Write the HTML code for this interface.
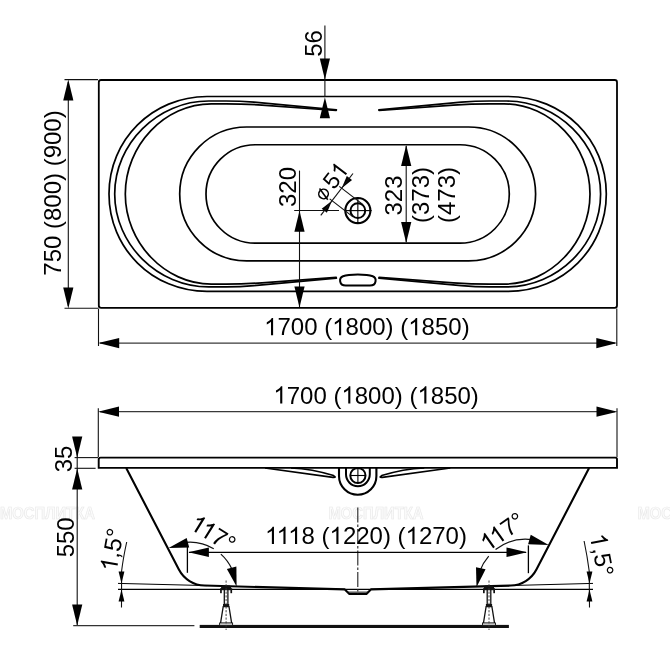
<!DOCTYPE html>
<html><head><meta charset="utf-8"><title>Bathtub drawing</title>
<style>
html,body{margin:0;padding:0;background:#fff;}
body{width:670px;height:669px;overflow:hidden;}
svg{display:block;will-change:transform;opacity:0.999;font-family:"Liberation Sans",sans-serif;}
</style></head>
<body>
<svg width="670" height="669" viewBox="0 0 670 669">
<rect x="0" y="0" width="670" height="669" fill="#fff"/>
<text x="637.5" y="519.2" font-size="16" font-weight="bold" fill="#fcfcfc" stroke="#e9e9e9" stroke-width="0.7" textLength="95" lengthAdjust="spacingAndGlyphs">МОСПЛИТКА</text>
<text x="328.5" y="519.2" font-size="16" font-weight="bold" fill="#fcfcfc" stroke="#e9e9e9" stroke-width="0.7" textLength="95" lengthAdjust="spacingAndGlyphs">МОСПЛИТКА</text>
<text x="0" y="519.2" font-size="16" font-weight="bold" fill="#fcfcfc" stroke="#e9e9e9" stroke-width="0.7" textLength="95" lengthAdjust="spacingAndGlyphs">МОСПЛИТКА</text>
<rect x="98.8" y="80" width="518.2" height="227.9" rx="2.3" ry="2.3" fill="none" stroke="#000" stroke-width="1.8"/>
<path d="M207 96.5 L508.3 96.5 C562.89 96.5 606.3 139.67 606.3 193.95 C606.3 248.23 562.89 291.4 508.3 291.4 L207 291.4 C152.41 291.4 109 248.23 109 193.95 C109 139.67 152.41 96.5 207 96.5 Z" fill="none" stroke="#000" stroke-width="1.7" />
<path d="M246.65 127 L468.65 127 C505.63 127 535.6 156.97 535.6 193.95 C535.6 230.93 505.63 260.9 468.65 260.9 L246.65 260.9 C209.67 260.9 179.7 230.93 179.7 193.95 C179.7 156.97 209.67 127 246.65 127 Z" fill="none" stroke="#000" stroke-width="1.7" />
<path d="M255.2 144.75 L460.1 144.75 C487.27 144.75 509.3 166.78 509.3 193.95 C509.3 221.12 487.27 243.15 460.1 243.15 L255.2 243.15 C228.03 243.15 206 221.12 206 193.95 C206 166.78 228.03 144.75 255.2 144.75 Z" fill="none" stroke="#000" stroke-width="1.7" />
<path d="M336.4 109.8 L254 102.2 Q240 101 226 101 L208.7 101 C157.66 101 114.7 143.48 114.7 193.95 C114.7 244.42 157.66 286.9 208.7 286.9 L226 286.9 Q240 286.9 254 285.7 L336.4 278.1" fill="none" stroke="#000" stroke-width="1.7" stroke-linecap="round" stroke-linejoin="round"/>
<path d="M336.2 110.5 L262 105.1 Q244 103.8 226 103.8 L211.3 103.8 C164.86 103.8 125.3 145.27 125.3 193.95 C125.3 242.63 164.86 284.1 211.3 284.1 L226 284.1 Q244 284.1 262 282.8 L336.2 277.4" fill="none" stroke="#000" stroke-width="1.7" stroke-linecap="round" stroke-linejoin="round"/>
<path d="M378.9 109.8 L461.3 102.2 Q475.3 101 489.3 101 L506.6 101 C557.64 101 600.6 143.48 600.6 193.95 C600.6 244.42 557.64 286.9 506.6 286.9 L489.3 286.9 Q475.3 286.9 461.3 285.7 L378.9 278.1" fill="none" stroke="#000" stroke-width="1.7" stroke-linecap="round" stroke-linejoin="round"/>
<path d="M379.1 110.5 L453.3 105.1 Q471.3 103.8 489.3 103.8 L504 103.8 C550.44 103.8 590 145.27 590 193.95 C590 242.63 550.44 284.1 504 284.1 L489.3 284.1 Q471.3 284.1 453.3 282.8 L379.1 277.4" fill="none" stroke="#000" stroke-width="1.7" stroke-linecap="round" stroke-linejoin="round"/>
<path d="M343 276.2 C349 274.0 366.7 274.0 372.7 276.2 C377.1 277.8 376.7 285.6 370 285.6 L345.7 285.6 C339 285.6 338.6 277.8 343 276.2 Z" fill="none" stroke="#000" stroke-width="2.0" />
<circle cx="357.85" cy="210.6" r="12.55" fill="none" stroke="#000" stroke-width="2.1"/>
<circle cx="357.85" cy="210.6" r="7.4" fill="none" stroke="#000" stroke-width="2.0"/>
<line x1="357.85" y1="197.8" x2="357.85" y2="223.5" stroke="#000" stroke-width="1.1" />
<line x1="344.7" y1="210.6" x2="371.7" y2="210.6" stroke="#000" stroke-width="1.1" />
<line x1="64.5" y1="79.6" x2="98" y2="79.6" stroke="#111" stroke-width="1.1" />
<line x1="64.5" y1="308.3" x2="98" y2="308.3" stroke="#111" stroke-width="1.1" />
<line x1="68.3" y1="82" x2="68.3" y2="306" stroke="#111" stroke-width="1.1" />
<polygon points="68.3,79.4 73.4,100.4 63.2,100.4" fill="#000"/>
<polygon points="68.3,308.6 63.2,287.6 73.4,287.6" fill="#000"/>
<g transform="translate(61.2 193) rotate(-90)" fill="#000"><text x="-82.72 -69.37 -56.02 -36.01 -28.02 -14.67 -1.32 12.03 26.69 34.68 48.03 61.38 74.73" y="0" font-size="24" >750(800)(900)</text></g>
<line x1="98.5" y1="308.5" x2="98.5" y2="346" stroke="#111" stroke-width="1.1" />
<line x1="616.8" y1="308.5" x2="616.8" y2="346" stroke="#111" stroke-width="1.1" />
<line x1="100" y1="343.1" x2="615" y2="343.1" stroke="#3a3a3a" stroke-width="1.3" />
<polygon points="98.2,343.1 119.2,338 119.2,348.2" fill="#000"/>
<polygon points="617.3,343.1 596.3,348.2 596.3,338" fill="#000"/>
<g transform="translate(366.9 335.3)" fill="#000"><text x="-89.4 -76.05 -62.7 -42.68 -21.34 -7.99 5.36 18.71 33.36 54.71 68.05 81.4 94.75" y="0" font-size="24" >700(800)(850)</text><path transform="translate(-102.74 0) scale(0.011719 -0.011719)" d="M763 0H583V1147Q518 1085 412.5 1023T223 930V1104Q374 1175 487 1276T647 1472H763Z"/><path transform="translate(-34.69 0) scale(0.011719 -0.011719)" d="M763 0H583V1147Q518 1085 412.5 1023T223 930V1104Q374 1175 487 1276T647 1472H763Z"/><path transform="translate(41.36 0) scale(0.011719 -0.011719)" d="M763 0H583V1147Q518 1085 412.5 1023T223 930V1104Q374 1175 487 1276T647 1472H763Z"/></g>
<line x1="324.9" y1="25.5" x2="324.9" y2="97" stroke="#111" stroke-width="1.1" />
<polygon points="324.9,79.5 319.8,58.5 330,58.5" fill="#000"/>
<polygon points="324.9,97.2 330,118.2 319.8,118.2" fill="#000"/>
<g transform="translate(322 43.4) rotate(-90)" fill="#000"><text x="-13.35 0" y="0" font-size="24" >56</text></g>
<line x1="299.5" y1="170.6" x2="299.5" y2="307" stroke="#111" stroke-width="1.1" />
<line x1="294.2" y1="210.5" x2="339" y2="210.5" stroke="#111" stroke-width="1.1" />
<polygon points="299.5,210.8 304.6,231.8 294.4,231.8" fill="#000"/>
<polygon points="299.5,307.6 294.4,286.6 304.6,286.6" fill="#000"/>
<g transform="translate(296.2 187) rotate(-90)" fill="#000"><text x="-20.02 -6.67 6.67" y="0" font-size="24" >320</text></g>
<line x1="406.2" y1="146" x2="406.2" y2="242" stroke="#111" stroke-width="1.1" />
<polygon points="406.2,144.9 411.3,165.9 401.1,165.9" fill="#000"/>
<polygon points="406.2,243 401.1,222 411.3,222" fill="#000"/>
<g transform="translate(402.3 195.5) rotate(-90)" fill="#000"><text x="-20.02 -6.67 6.67" y="0" font-size="24" >323</text></g>
<g transform="translate(428.6 195) rotate(-90)" fill="#000"><text x="-28.02 -20.02 -6.67 6.67 20.02" y="0" font-size="24" >(373)</text></g>
<g transform="translate(455.2 195) rotate(-90)" fill="#000"><text x="-28.02 -20.02 -6.67 6.67 20.02" y="0" font-size="24" >(473)</text></g>
<line x1="362.67" y1="204.34" x2="339.3" y2="186.34" stroke="#111" stroke-width="1.15" />
<polygon points="341.67,188.17 346.81,176.1 352.04,180.12" fill="#000"/>
<line x1="353.03" y1="216.86" x2="329.66" y2="198.86" stroke="#111" stroke-width="1.15" />
<polygon points="332.03,200.69 326.9,212.77 321.67,208.74" fill="#000"/>
<line x1="352.96" y1="173.51" x2="320.75" y2="215.35" stroke="#111" stroke-width="1.15" />
<g transform="translate(334 190.4) rotate(-52.3)" fill="#000"><text x="0" y="0" font-size="23" >5</text><path transform="translate(12.79 0) scale(0.011230 -0.011230)" d="M763 0H583V1147Q518 1085 412.5 1023T223 930V1104Q374 1175 487 1276T647 1472H763Z"/></g>
<g transform="translate(334 190.4) rotate(-52.3)" fill="none" stroke="#000" stroke-linecap="butt"><circle cx="-9.2" cy="-6.1" r="4.75" stroke-width="1.6"/><line x1="-11.25" y1="0.8" x2="-7.35" y2="-12.6" stroke-width="1.5"/></g>
<path d="M100.6 457.6 L615.4 457.6 Q617 457.6 617 459.20000000000005 L617 467.9 L98.7 467.9 L98.7 459.5 Q98.7 457.6 100.6 457.6 Z" fill="none" stroke="#000" stroke-width="1.9" />
<path d="M126.2 468 L178.87 569.49 A29.9 29.9 0 0 0 204.6 585.56 L344.8 589.4 L349.4 593.9 L366.4 593.9 L370.9 589.4 L510.7 585.56 A29.9 29.9 0 0 0 536.43 569.49 L589.1 468" fill="none" stroke="#000" stroke-width="2.1" stroke-linejoin="round"/>
<line x1="347.4" y1="592.1" x2="368.4" y2="592.1" stroke="#111" stroke-width="0.9" />
<line x1="118" y1="583.4" x2="207" y2="585.6" stroke="#000" stroke-width="1.0" />
<line x1="593" y1="583.4" x2="508.3" y2="585.6" stroke="#000" stroke-width="1.0" />
<line x1="118" y1="589.45" x2="593" y2="589.45" stroke="#000" stroke-width="1.2" />
<line x1="357.8" y1="507.5" x2="357.8" y2="594" stroke="#222" stroke-width="1.1" stroke-dasharray="15 2 2.5 2"/>
<path d="M339 468 L339 476.1 A18.7 18.7 0 0 0 376.4 476.1 L376.4 468" fill="none" stroke="#000" stroke-width="2.1" />
<path d="M346 468 L346 474.3 A11.9 11.9 0 0 0 369.8 474.3 L369.8 468" fill="none" stroke="#000" stroke-width="2.0" />
<circle cx="357.9" cy="475.5" r="7.6" fill="none" stroke="#000" stroke-width="2.0"/>
<line x1="357.9" y1="468.6" x2="357.9" y2="483.2" stroke="#000" stroke-width="1.1" />
<line x1="350" y1="475.5" x2="365.8" y2="475.5" stroke="#000" stroke-width="1.1" />
<path d="M265 468 L333 477.4 Q337.2 477.6 333.6 475.6 Q312 468.8 291 468" fill="none" stroke="#000" stroke-width="1.6" stroke-linejoin="round"/>
<path d="M450.3 468 L382.3 477.4 Q378.1 477.6 381.7 475.6 Q403.3 468.8 424.3 468" fill="none" stroke="#000" stroke-width="1.6" stroke-linejoin="round"/>
<line x1="98.3" y1="408.3" x2="98.3" y2="457" stroke="#111" stroke-width="1.1" />
<line x1="617" y1="408.3" x2="617" y2="457" stroke="#111" stroke-width="1.1" />
<line x1="100" y1="411.7" x2="615" y2="411.7" stroke="#3a3a3a" stroke-width="1.3" />
<polygon points="98,411.7 119,406.6 119,416.8" fill="#000"/>
<polygon points="617.5,411.7 596.5,416.8 596.5,406.6" fill="#000"/>
<g transform="translate(376.1 403.5)" fill="#000"><text x="-89.4 -76.05 -62.7 -42.68 -21.34 -7.99 5.36 18.71 33.36 54.71 68.05 81.4 94.75" y="0" font-size="24" >700(800)(850)</text><path transform="translate(-102.74 0) scale(0.011719 -0.011719)" d="M763 0H583V1147Q518 1085 412.5 1023T223 930V1104Q374 1175 487 1276T647 1472H763Z"/><path transform="translate(-34.69 0) scale(0.011719 -0.011719)" d="M763 0H583V1147Q518 1085 412.5 1023T223 930V1104Q374 1175 487 1276T647 1472H763Z"/><path transform="translate(41.36 0) scale(0.011719 -0.011719)" d="M763 0H583V1147Q518 1085 412.5 1023T223 930V1104Q374 1175 487 1276T647 1472H763Z"/></g>
<line x1="74.6" y1="457.6" x2="98" y2="457.6" stroke="#111" stroke-width="1.1" />
<line x1="74.6" y1="468.3" x2="95.6" y2="468.3" stroke="#111" stroke-width="1.1" />
<line x1="77.2" y1="438" x2="77.2" y2="625" stroke="#111" stroke-width="1.1" />
<polygon points="77.2,457.4 72.1,436.4 82.3,436.4" fill="#000"/>
<polygon points="77.2,468.5 82.3,489.5 72.1,489.5" fill="#000"/>
<polygon points="77.2,625.6 72.1,604.6 82.3,604.6" fill="#000"/>
<g transform="translate(71.5 459) rotate(-90)" fill="#000"><text x="-13.35 0" y="0" font-size="24" >35</text></g>
<g transform="translate(73.6 537.3) rotate(-90)" fill="#000"><text x="-20.02 -6.67 6.67" y="0" font-size="24" >550</text></g>
<line x1="73.2" y1="625.7" x2="194.4" y2="625.7" stroke="#333" stroke-width="1.3" />
<rect x="199.7" y="624.9" width="309.2" height="3.1" fill="#111"/>
<line x1="187.4" y1="544.8" x2="187.4" y2="572.8" stroke="#000" stroke-width="1.3" />
<line x1="528.4" y1="545.4" x2="528.4" y2="573.2" stroke="#000" stroke-width="1.3" />
<line x1="189" y1="552.3" x2="526" y2="552.3" stroke="#000" stroke-width="1.2" />
<polygon points="188.4,552.3 208.9,547.5 208.9,557.1" fill="#000"/>
<polygon points="527,552.3 506.5,557.1 506.5,547.5" fill="#000"/>
<g transform="translate(366 544.1)" fill="#000"><text x="-64.48 -44.46 -23.12 -9.77 3.58 16.92 31.58 52.92 66.27 79.62 92.97" y="0" font-size="24" >8(220)(270)</text><path transform="translate(-100.96 0) scale(0.011719 -0.011719)" d="M763 0H583V1147Q518 1085 412.5 1023T223 930V1104Q374 1175 487 1276T647 1472H763Z"/><path transform="translate(-89.4 0) scale(0.011719 -0.011719)" d="M763 0H583V1147Q518 1085 412.5 1023T223 930V1104Q374 1175 487 1276T647 1472H763Z"/><path transform="translate(-77.83 0) scale(0.011719 -0.011719)" d="M763 0H583V1147Q518 1085 412.5 1023T223 930V1104Q374 1175 487 1276T647 1472H763Z"/><path transform="translate(-36.47 0) scale(0.011719 -0.011719)" d="M763 0H583V1147Q518 1085 412.5 1023T223 930V1104Q374 1175 487 1276T647 1472H763Z"/><path transform="translate(39.58 0) scale(0.011719 -0.011719)" d="M763 0H583V1147Q518 1085 412.5 1023T223 930V1104Q374 1175 487 1276T647 1472H763Z"/></g>
<path d="M185.86 542.38 A46.3 46.3 0 0 1 213.75 548.81" fill="none" stroke="#111" stroke-width="1.2" />
<path d="M220.88 554.09 A46.3 46.3 0 0 1 231.86 568.93" fill="none" stroke="#111" stroke-width="1.2" />
<polygon points="168.6,547.9 186.69,538.06 189.19,547.54" fill="#000"/>
<polygon points="236.6,586.6 226.91,568.98 236.39,566.49" fill="#000"/>
<path d="M531.73 539.56 A49.06 49.06 0 0 0 495.55 549.59" fill="none" stroke="#111" stroke-width="1.2" />
<path d="M488.72 556.06 A49.06 49.06 0 0 0 479.65 571.47" fill="none" stroke="#111" stroke-width="1.2" />
<polygon points="548.7,544.9 528.12,544.28 530.73,534.84" fill="#000"/>
<polygon points="476.5,587.3 476.01,567.2 485.57,569.36" fill="#000"/>
<g transform="translate(188.5 527.9) rotate(32)" fill="#000"><text x="24.92 38.27" y="0" font-size="24" >7°</text><path transform="translate(0 0) scale(0.011719 -0.011719)" d="M763 0H583V1147Q518 1085 412.5 1023T223 930V1104Q374 1175 487 1276T647 1472H763Z"/><path transform="translate(11.57 0) scale(0.011719 -0.011719)" d="M763 0H583V1147Q518 1085 412.5 1023T223 930V1104Q374 1175 487 1276T647 1472H763Z"/></g>
<g transform="translate(487.6 552.1) rotate(-35.5)" fill="#000"><text x="24.92 38.27" y="0" font-size="24" >7°</text><path transform="translate(0 0) scale(0.011719 -0.011719)" d="M763 0H583V1147Q518 1085 412.5 1023T223 930V1104Q374 1175 487 1276T647 1472H763Z"/><path transform="translate(11.57 0) scale(0.011719 -0.011719)" d="M763 0H583V1147Q518 1085 412.5 1023T223 930V1104Q374 1175 487 1276T647 1472H763Z"/></g>
<path d="M126.7 542 Q123.2 558 121.6 571 L121.5 607.4" fill="none" stroke="#111" stroke-width="1.1" />
<polygon points="121.5,583.5 118.6,571.5 124.4,571.5" fill="#000"/>
<polygon points="121.5,589.5 124.4,601.5 118.6,601.5" fill="#000"/>
<g transform="translate(116.4 572.2) rotate(-80)" fill="#000"><text x="13.35 20.02 33.36" y="0" font-size="24" >,5°</text><path transform="translate(0 0) scale(0.011719 -0.011719)" d="M763 0H583V1147Q518 1085 412.5 1023T223 930V1104Q374 1175 487 1276T647 1472H763Z"/></g>
<path d="M584.1 541 Q587.4 557 589.2 571 L589.5 607.4" fill="none" stroke="#111" stroke-width="1.1" />
<polygon points="589.5,583.6 586.6,571.6 592.4,571.6" fill="#000"/>
<polygon points="589.5,589.5 592.4,601.5 586.6,601.5" fill="#000"/>
<g transform="translate(589.6 535.3) rotate(79)" fill="#000"><text x="13.35 20.02 33.36" y="0" font-size="24" >,5°</text><path transform="translate(0 0) scale(0.011719 -0.011719)" d="M763 0H583V1147Q518 1085 412.5 1023T223 930V1104Q374 1175 487 1276T647 1472H763Z"/></g>
<rect x="221.1" y="585.6" width="10" height="4.2" rx="1.5" fill="#111"/>
<rect x="220.1" y="588.4" width="12" height="1.8" fill="#111"/>
<rect x="220.1" y="588.6" width="1.7" height="4.6" fill="#111"/>
<rect x="230.4" y="588.6" width="1.7" height="4.6" fill="#111"/>
<rect x="224.3" y="589.6" width="3.6" height="15" fill="#fff" stroke="#111" stroke-width="1.3"/>
<rect x="223" y="604" width="6.2" height="2.6" fill="#111"/>
<path d="M223.2 606.6 L229 606.6 L231.7 623.4 L220.5 623.4 Z" fill="#fff" stroke="#111" stroke-width="1.3"/>
<rect x="219.6" y="623" width="13" height="2.2" fill="#fff" stroke="#111" stroke-width="0.9"/>
<line x1="226.1" y1="580.5" x2="226.1" y2="630" stroke="#333" stroke-width="0.9" stroke-dasharray="2.2 1.5"/>
<rect x="484" y="585.6" width="10" height="4.2" rx="1.5" fill="#111"/>
<rect x="483" y="588.4" width="12" height="1.8" fill="#111"/>
<rect x="483" y="588.6" width="1.7" height="4.6" fill="#111"/>
<rect x="493.3" y="588.6" width="1.7" height="4.6" fill="#111"/>
<rect x="487.2" y="589.6" width="3.6" height="15" fill="#fff" stroke="#111" stroke-width="1.3"/>
<rect x="485.9" y="604" width="6.2" height="2.6" fill="#111"/>
<path d="M486.1 606.6 L491.9 606.6 L494.6 623.4 L483.4 623.4 Z" fill="#fff" stroke="#111" stroke-width="1.3"/>
<rect x="482.5" y="623" width="13" height="2.2" fill="#fff" stroke="#111" stroke-width="0.9"/>
<line x1="489" y1="580.5" x2="489" y2="630" stroke="#333" stroke-width="0.9" stroke-dasharray="2.2 1.5"/>
</svg>
</body></html>
